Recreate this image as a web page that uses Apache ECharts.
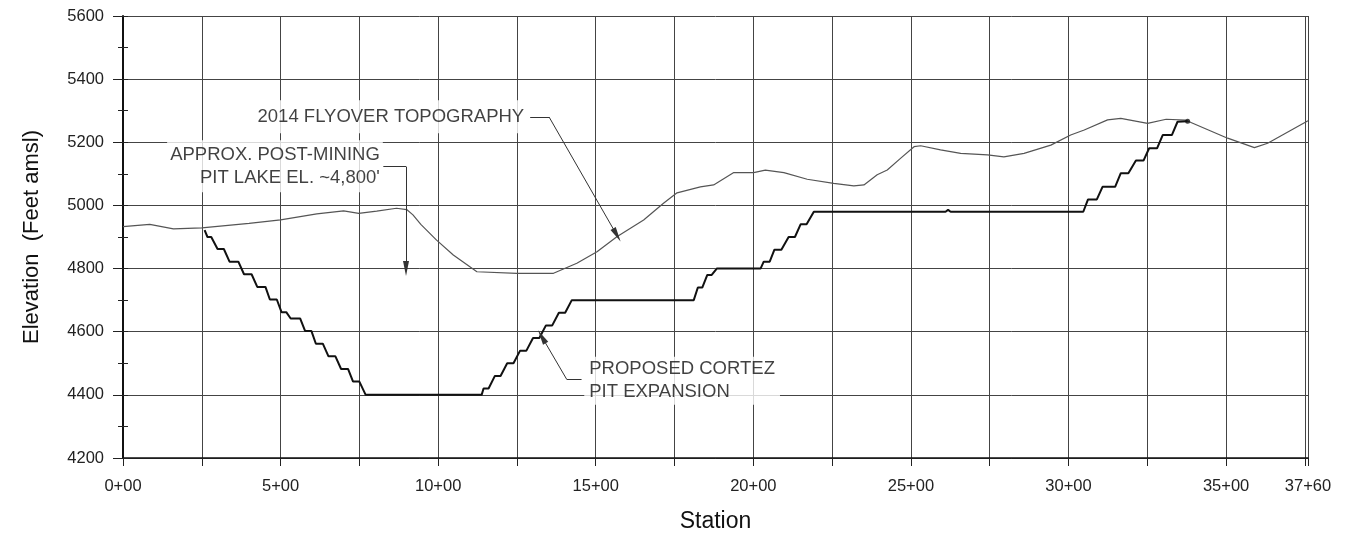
<!DOCTYPE html>
<html>
<head>
<meta charset="utf-8">
<script src="https://cdn.jsdelivr.net/npm/echarts@6/dist/echarts.min.js"></script>
<style>
html,body{margin:0;padding:0;background:#fff;}
#chart{width:1346px;height:538px;}
</style>
</head>
<body>
<div id="chart"></div>
<script>
// ---- Data ----
const xTickValues = [0, 500, 1000, 1500, 2000, 2500, 3000, 3500, 3760];
const xTickLabels = ['0+00', '5+00', '10+00', '15+00', '20+00', '25+00', '30+00', '35+00', '37+60'];
const yTickValues = [4200, 4400, 4600, 4800, 5000, 5200, 5400, 5600];

// 2014 flyover topography: [station (ft), elevation (ft amsl)]
const topoProfile = [
  [0,4933],[85,4940],[160,4926],[250,4929],[400,4943],[500,4954],[615,4973],[700,4983],
  [748,4975],[805,4982],[868,4991],[900,4987],[920,4970],[945,4940],[995,4890],[1048,4843],
  [1123,4790],[1250,4785],[1366,4785],[1440,4817],[1504,4853],[1567,4901],[1652,4954],
  [1715,5007],[1758,5040],[1832,5059],[1874,5065],[1938,5104],[2001,5104],[2038,5112],
  [2097,5104],[2171,5083],[2255,5070],[2319,5062],[2351,5065],[2393,5097],[2425,5112],
  [2467,5149],[2510,5186],[2531,5189],[2594,5176],[2658,5165],[2743,5160],[2795,5154],
  [2859,5165],[2944,5191],[3007,5223],[3050,5239],[3124,5271],[3166,5276],[3251,5260],
  [3310,5273],[3372,5270],[3505,5213],[3590,5183],[3632,5197],[3760,5268]
];

// Proposed Cortez pit expansion (benched profile): [station, elevation]
const pitProfile = [
  [259,4922],[268,4900],[280,4900],[300,4862],[320,4862],[338,4822],[366,4822],[384,4782],
  [408,4782],[426,4742],[452,4742],[466,4702],[488,4702],[503,4662],[518,4662],[532,4642],
  [562,4642],[578,4602],[598,4602],[612,4562],[634,4562],[652,4522],[674,4522],[692,4482],
  [714,4482],[730,4442],[750,4442],[770,4400],
  [1138,4400],[1144,4420],[1160,4420],[1180,4460],[1198,4460],[1219,4500],[1239,4500],
  [1260,4540],[1280,4540],[1301,4580],[1321,4580],[1342,4620],[1362,4620],[1383,4660],
  [1403,4660],[1424,4700],
  [1811,4700],[1824,4740],[1838,4740],[1854,4780],[1868,4780],[1884,4800],
  [2023,4800],[2033,4822],[2052,4822],[2067,4860],[2089,4860],[2112,4900],[2132,4900],
  [2150,4940],[2169,4940],[2192,4980],[2610,4980],[2618,4986],[2626,4980],
  [3047,4980],[3062,5019],[3090,5019],[3108,5059],[3148,5059],[3166,5102],[3190,5102],
  [3214,5142],[3238,5142],[3256,5181],[3281,5181],[3299,5223],[3328,5223],[3346,5265],
  [3378,5267]
];

// Callout texts
const calloutTexts = [
  '2014 FLYOVER TOPOGRAPHY',
  'APPROX. POST-MINING\nPIT LAKE EL. ~4,800\'',
  'PROPOSED CORTEZ\nPIT EXPANSION'
];

// ---- Chart ----
const FONT = '"Liberation Sans", Arial, sans-serif';
const chart = echarts.init(document.getElementById('chart'), null, {renderer: 'canvas'});

const calloutStyle = {
  color: '#111', fontFamily: FONT, fontSize: 18.5, lineHeight: 23,
  backgroundColor: '#fff'
};

const leader = (pts) => {
  const segs = [];
  for (let i = 0; i < pts.length - 1; i++) {
    const last = i === pts.length - 2;
    segs.push([
      {coord: pts[i], symbol: 'none'},
      last ? {coord: pts[i + 1], symbol: 'triangle', symbolSize: [6, 15]}
           : {coord: pts[i + 1], symbol: 'none'}
    ]);
  }
  return segs;
};

const option = {
  backgroundColor: '#fff',
  animation: false,
  grid: {left: 123, top: 16, width: 1185, height: 442, containLabel: false},
  xAxis: {
    type: 'value', min: 0, max: 3760, interval: 250,
    name: 'Station', nameLocation: 'middle', nameGap: 52,
    nameTextStyle: {fontFamily: FONT, fontSize: 23, color: '#111'},
    axisLine: {show: true, onZero: false, lineStyle: {color: '#111', width: 1.5}},
    axisTick: {show: true, length: 8, lineStyle: {color: '#222', width: 1}},
    axisLabel: {
      margin: 20, fontFamily: FONT, fontSize: 16.5, color: '#222',
      formatter: (v) => { const i = xTickValues.indexOf(v); return i >= 0 ? xTickLabels[i] : ''; }
    },
    splitLine: {show: true, lineStyle: {color: '#444', width: 1}}
  },
  yAxis: [{
    type: 'value', min: yTickValues[0], max: yTickValues[yTickValues.length - 1], interval: 200,
    name: 'Elevation  (Feet amsl)', nameLocation: 'middle', nameGap: 80, nameRotate: 90,
    nameTextStyle: {fontFamily: FONT, fontSize: 22, color: '#111'},
    axisLine: {show: true, onZero: false, lineStyle: {color: '#111', width: 2}},
    axisTick: {show: true, length: 10, lineStyle: {color: '#222', width: 1}},
    minorTick: {show: true, splitNumber: 2, length: 5, lineStyle: {color: '#222', width: 1}},
    axisLabel: {margin: 19, fontFamily: FONT, fontSize: 16.5, color: '#222',
      formatter: (v) => String(v)},
    splitLine: {show: true, lineStyle: {color: '#444', width: 1}}
  }, {
    type: 'value', position: 'left', min: yTickValues[0], max: yTickValues[yTickValues.length - 1], interval: 100,
    axisLine: {show: false}, axisLabel: {show: false}, splitLine: {show: false},
    axisTick: {show: true, inside: true, length: 5, lineStyle: {color: '#222', width: 1}}
  }],
  series: [
    {
      name: 'Topography', type: 'line', data: topoProfile, showSymbol: false,
      lineStyle: {color: '#555', width: 1.2}, z: 3
    },
    {
      name: 'Pit', type: 'line', data: pitProfile, showSymbol: false,
      lineStyle: {color: '#111', width: 2}, z: 4
    },
    {
      name: 'PitEnd', type: 'scatter', data: [pitProfile[pitProfile.length - 1]],
      symbol: 'circle', symbolSize: 5, itemStyle: {color: '#111'}, z: 5
    },
    {
      name: 'Callouts', type: 'scatter', symbolSize: 1, z: 6,
      itemStyle: {color: 'rgba(0,0,0,0)'},
      data: [
        {value: [1284, 5281], label: Object.assign({show: true, position: 'left', distance: 0,
          formatter: calloutTexts[0], padding: [5, 3]}, calloutStyle)},
        {value: [826, 5124], label: Object.assign({show: true, position: 'left', distance: 0,
          align: 'right', formatter: calloutTexts[1], padding: [3, 3]}, calloutStyle)},
        {value: [1462, 4445], label: Object.assign({show: true, position: 'right', distance: 0,
          align: 'left', formatter: calloutTexts[2], padding: [1, 5]}, calloutStyle)}
      ],
      markLine: {
        silent: true, animation: false, precision: 3,
        label: {show: false},
        lineStyle: {color: '#333', width: 1, type: 'solid'},
        itemStyle: {color: '#111'},
        data: [].concat(
          leader([[1292, 5280], [1352, 5280], [1567, 4906]]),
          leader([[826, 5123], [898, 5123], [898, 4800]]),
          leader([[1455, 4449], [1408, 4449], [1329, 4584]])
        )
      }
    }
  ]
};
chart.setOption(option);
</script>
</body>
</html>
